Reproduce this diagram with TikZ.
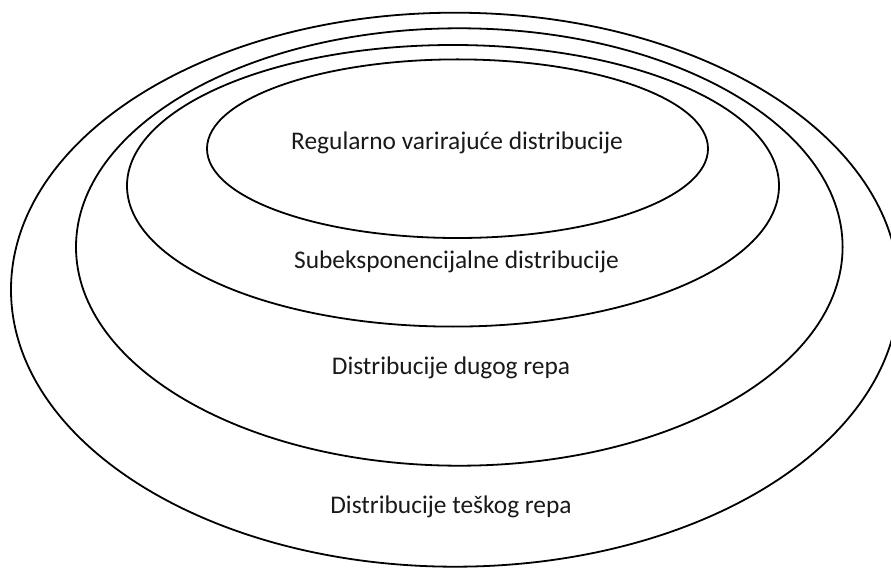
\documentclass[tikz,border=0pt]{standalone}
\usepackage{fontspec}
\setmainfont{Carlito}
\begin{document}
\begin{tikzpicture}[x=1pt,y=-1pt,
  ring/.style={draw=black,line width=1.8pt},
  lbl/.style={font=\fontsize{25.4}{30}\selectfont,text=black!90,inner sep=0pt,anchor=center}]
\useasboundingbox (0,0) rectangle (891,569);
\clip (0,0) rectangle (891,569);
\fill[white] (0,0) rectangle (891,569);
\draw[ring] (455,289.7) ellipse (444 and 277);
\draw[ring] (459.3,247) ellipse (383.3 and 218.7);
\draw[ring] (453,185.8) ellipse (326 and 140.8);
\draw[ring] (457.5,148.7) ellipse (250.5 and 89.3);
\node[lbl] (reg) at (457,143) {Regularno varirajuće distribucije};
\node[lbl] (sub) at (456.5,262) {Subeksponencijalne distribucije};
\node[lbl] (dug) at (451,368) {Distribucije dugog repa};
\node[lbl] (tes) at (451,507) {Distribucije teškog repa};
\end{tikzpicture}
\end{document}
